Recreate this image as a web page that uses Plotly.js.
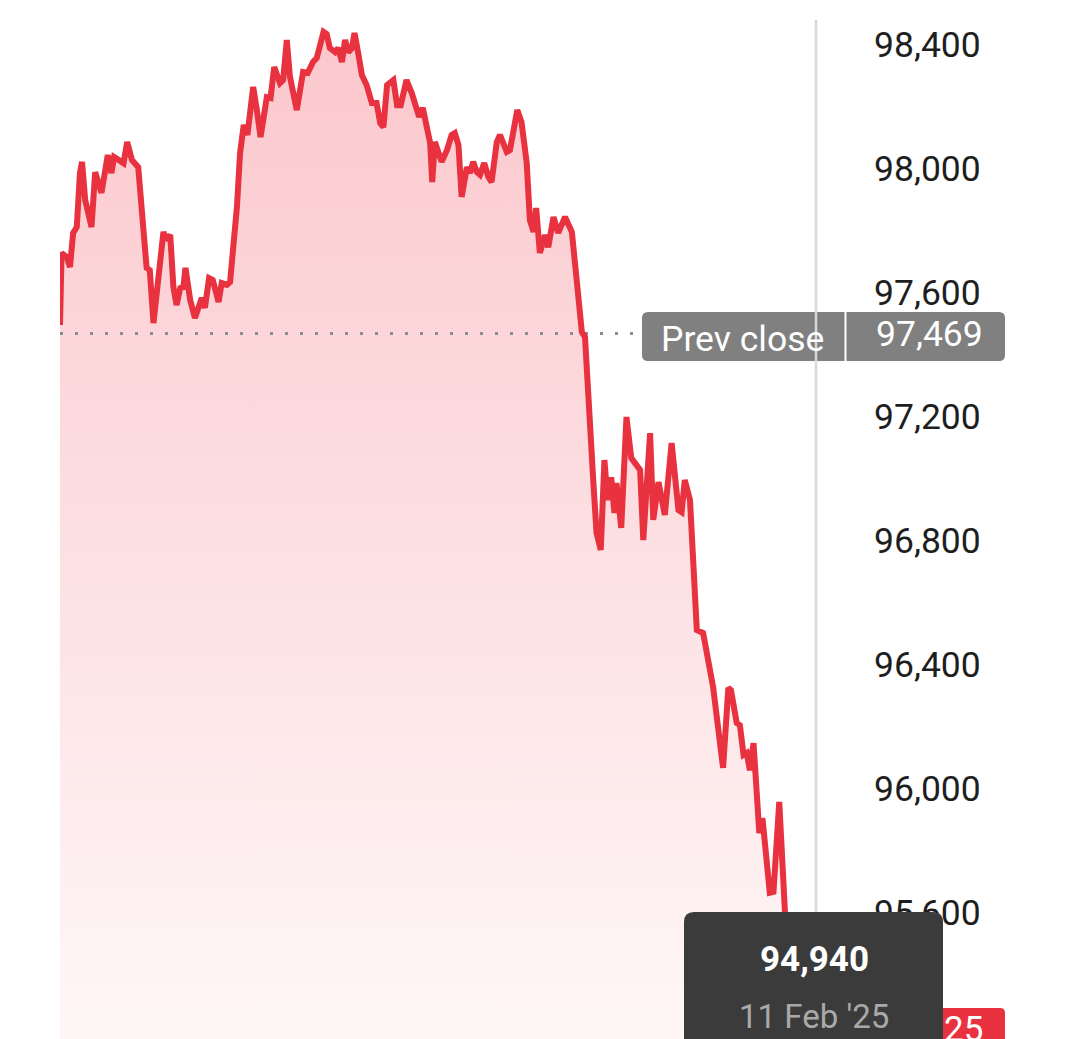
<!DOCTYPE html>
<html>
<head>
<meta charset="utf-8">
<script src="https://cdn.plot.ly/plotly-3.0.1.min.js"></script>
<style>
  html, body { margin: 0; padding: 0; background: #ffffff; overflow: hidden; }
  #chart { width: 1080px; height: 1039px; }
</style>
</head>
<body>
<div id="chart"></div>
<script>
// ---- data (minutes since start of the 24h window, price in USD) ----
const minutes = [0,3,13,19,25,32,38,42,48,60,67,79,91,98,103,121,128,137,149,165,171,178,197,202,210,216,222,229,235,239,248,257,270,276,284,291,302,308,318,324,330,337,343,350,357,368,375,382,394,401,408,419,425,432,438,451,463,472,482,489,502,508,514,524,530,537,543,549,556,561,568,575,584,594,603,610,616,623,635,642,649,660,670,679,684,691,698,705,709,714,727,737,746,752,759,765,775,781,787,794,800,808,816,822,832,838,851,857,871,879,889,895,902,907,914,924,930,940,949,962,975,984,994,1000,1006,1016,1022,1030,1037,1043,1050,1056,1060,1069,1079,1088,1095,1105,1111,1124,1130,1140,1152,1165,1178,1184,1190,1200,1206,1213,1225,1235,1244,1263,1273,1278,1289,1295,1302,1308,1314,1321,1332,1338,1352,1359,1370,1381,1385];
const prices = [97497,97729,97716,97684,97794,97813,97987,98023,97900,97813,97990,97923,98045,97987,98039,98019,98087,98029,98006,97681,97674,97503,97797,97771,97787,97619,97561,97616,97619,97681,97577,97519,97584,97552,97648,97642,97571,97632,97626,97635,97748,97877,98052,98142,98110,98265,98190,98103,98232,98229,98329,98277,98287,98416,98297,98190,98313,98310,98345,98358,98442,98435,98390,98377,98390,98345,98416,98377,98390,98439,98374,98303,98271,98213,98213,98148,98135,98271,98287,98206,98206,98287,98245,98200,98168,98197,98126,98084,97958,98087,98023,98061,98110,98116,98077,97910,98006,97987,98023,97990,97981,98019,97974,97958,98087,98110,98055,98061,98190,98152,98019,97835,97797,97874,97729,97787,97748,97845,97794,97845,97797,97619,97474,97458,97255,96987,96826,96771,97061,96932,97006,96890,96987,96842,97200,97068,97052,97029,96803,97148,96868,96990,96884,97116,96900,96893,96997,96932,96739,96513,96503,96406,96329,96068,96326,96319,96213,96206,96110,96116,96061,96148,95858,95906,95665,95668,95958,95600,94940];
const yTicks = [95600, 96000, 96400, 96800, 97200, 97600, 98000, 98400];
const prevClose = 97469;
const prevCloseLabel = "Prev close";
const hoverDate = "11 Feb '25";
const lastTagText = "25";

// ---- geometry helpers (pixel -> paper) ----
const W = 1080, H = 1039, L = 60, R = 264;
const PW = W - L - R;
const px = p => (p - L) / PW;
const py = p => (H - p) / H;
function roundRect(x0, y0, x1, y1, r) {
  const rx = r / PW, ry = r / H;
  const X0 = px(x0), X1 = px(x1), Yt = py(y0), Yb = py(y1);
  return `M ${X0 + rx},${Yt} L ${X1 - rx},${Yt} Q ${X1},${Yt} ${X1},${Yt - ry} ` +
         `L ${X1},${Yb + ry} Q ${X1},${Yb} ${X1 - rx},${Yb} L ${X0 + rx},${Yb} ` +
         `Q ${X0},${Yb} ${X0},${Yb + ry} L ${X0},${Yt - ry} Q ${X0},${Yt} ${X0 + rx},${Yt} Z`;
}
const fmt = v => v.toLocaleString('en-US');

const yMin = 95193.5, yMax = 98545.2;
const FONT = 'Roboto, "Noto Sans", sans-serif';

const fillTrace = {
  x: minutes, y: prices, type: 'scatter', mode: 'lines',
  line: { width: 0, color: 'rgba(0,0,0,0)' },
  fill: 'tozeroy',
  fillgradient: {
    type: 'vertical', start: yMin, stop: yMax,
    colorscale: [[0, '#fff7f7'], [0.55, '#fcdcdf'], [1, '#fbc6cb']]
  },
  hoverinfo: 'skip', showlegend: false
};
const prevTrace = {
  x: [0, 1105], y: [prevClose, prevClose], type: 'scatter', mode: 'lines',
  line: { width: 3, color: '#8c8c8c', dash: '3px,12px' },
  hoverinfo: 'skip', showlegend: false
};
const lineTrace = {
  x: minutes, y: prices, type: 'scatter', mode: 'lines',
  line: { width: 6, color: '#e8323f' },
  hoverinfo: 'skip', showlegend: false
};

const shapes = [
  { type: 'path', xref: 'paper', yref: 'paper', path: roundRect(642, 312, 1005, 361, 6),
    fillcolor: '#808080', line: { width: 0 }, layer: 'above' },
  { type: 'line', xref: 'paper', yref: 'paper', x0: px(845.5), x1: px(845.5), y0: py(312), y1: py(361),
    line: { color: '#ffffff', width: 2 }, layer: 'above' },
  { type: 'line', xref: 'paper', yref: 'paper', x0: 1, x1: 1, y0: 0, y1: py(20),
    line: { color: '#d8d8d8', width: 2.5 }, layer: 'above' },
  { type: 'path', xref: 'paper', yref: 'paper', path: roundRect(900, 1008, 1005, 1060, 5),
    fillcolor: '#e8323f', line: { width: 0 }, layer: 'above' },
  { type: 'path', xref: 'paper', yref: 'paper', path: roundRect(684, 912, 943, 1070, 10),
    fillcolor: '#3b3b3b', line: { width: 0 }, layer: 'above' }
];

const ann = (x, y, text, opts) => Object.assign({
  xref: 'paper', yref: 'paper', x: px(x), y: py(y), text: text, showarrow: false,
  xanchor: 'center', yanchor: 'middle'
}, opts);

const annotations = [
  ann(659, 339, prevCloseLabel, { xanchor: 'left', font: { family: FONT, size: 35.5, color: '#ffffff' } }),
  ann(929, 334, fmt(prevClose), { font: { family: FONT, size: 35.5, color: '#ffffff' } }),
  ann(985, 1029, lastTagText, { xanchor: 'right', font: { family: FONT, size: 35, color: '#ffffff' } }),
  ann(814, 959, '<b>' + fmt(prices[prices.length - 1]) + '</b>', { font: { family: FONT, size: 35, color: '#ffffff' } }),
  ann(814, 1016, hoverDate, { font: { family: FONT, size: 33, color: '#a9a9a9' } })
];

const layout = {
  width: W, height: H,
  margin: { l: L, r: R, t: 0, b: 0, pad: 0 },
  paper_bgcolor: '#ffffff', plot_bgcolor: '#ffffff',
  showlegend: false,
  xaxis: { range: [0, 1440], visible: false, fixedrange: true },
  yaxis: {
    range: [yMin, yMax], side: 'right', tickvals: yTicks, tickformat: ',',
    ticks: '', showgrid: false, zeroline: false, showline: false,
    ticklabelstandoff: 57,
    tickfont: { family: FONT, size: 35.5, color: '#1e1e1e' }, fixedrange: true
  },
  shapes: shapes,
  annotations: annotations
};

Plotly.newPlot('chart', [fillTrace, prevTrace, lineTrace], layout, { displayModeBar: false, staticPlot: true });
</script>
</body>
</html>
